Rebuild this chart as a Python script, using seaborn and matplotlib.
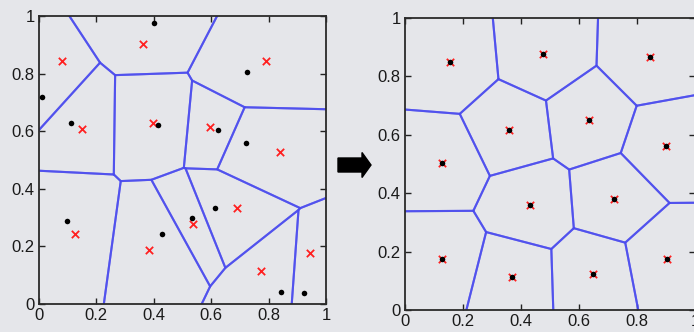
"""
Lloyd iteration: Voronoi cells before and after (two panels)
"""

import numpy as np
import pandas as pd
import matplotlib
matplotlib.use("Agg")
import matplotlib.pyplot as plt
from matplotlib.patches import FancyArrow
import seaborn as sns

# Left panel: current generators (black dots) and cell centroids (red x)
left_cen_x = [0.361, 0.079, 0.151, 0.396, 0.596, 0.791, 0.840, 0.125, 0.384, 0.535, 0.689, 0.772, 0.944]
left_cen_y = [0.904, 0.844, 0.606, 0.627, 0.615, 0.844, 0.528, 0.242, 0.187, 0.277, 0.334, 0.114, 0.176]
left_gen_x = [0.401, 0.012, 0.113, 0.413, 0.623, 0.726, 0.720, 0.096, 0.429, 0.532, 0.614, 0.842, 0.925]
left_gen_y = [0.976, 0.719, 0.627, 0.623, 0.603, 0.806, 0.560, 0.288, 0.242, 0.299, 0.332, 0.043, 0.037]

# Right panel: converged generators (they sit on their centroids)
right_gen_x = [0.154, 0.477, 0.846, 0.360, 0.633, 0.127, 0.901, 0.431, 0.719, 0.129, 0.368, 0.647, 0.904]
right_gen_y = [0.848, 0.878, 0.866, 0.617, 0.651, 0.503, 0.560, 0.358, 0.381, 0.175, 0.114, 0.123, 0.173]

ticks = [0, 0.2, 0.4, 0.6, 0.8, 1]
tick_labels = ["0", "0.2", "0.4", "0.6", "0.8", "1"]

BG = "#e5e6ea"
EDGE = "#4848ee"


def clip_halfplane(poly, m, n):
    """Keep the part of poly where (p - m) . n <= 0"""
    out = []
    k = len(poly)
    for i in range(k):
        a, b = poly[i], poly[(i + 1) % k]
        da, db = np.dot(a - m, n), np.dot(b - m, n)
        if da <= 0:
            out.append(a)
        if da * db < 0:
            t = da / (da - db)
            out.append(a + t * (b - a))
    return out


def voronoi_cells(xs, ys):
    sites = np.column_stack([xs, ys])
    big = [np.array(p, float) for p in [(-2, -2), (3, -2), (3, 3), (-2, 3)]]
    cells = []
    for i, p in enumerate(sites):
        poly = big
        for j, q in enumerate(sites):
            if i == j:
                continue
            poly = clip_halfplane(poly, (p + q) / 2, q - p)
        cells.append(np.array(poly))
    return cells


def draw_panel(ax, gx, gy, cx, cy):
    ax.set_facecolor(BG)
    # cells of the generators
    for cell in voronoi_cells(gx, gy):
        closed = np.vstack([cell, cell[:1]])
        ax.plot(closed[:, 0], closed[:, 1], color=EDGE, lw=1.5, alpha=0.75,
                solid_capstyle="round")
    cen = pd.DataFrame({"x": cx, "y": cy})
    gen = pd.DataFrame({"x": gx, "y": gy})
    sns.scatterplot(data=cen, x="x", y="y", ax=ax, marker="x", color="#ff2020",
                    s=28, linewidth=1.3, zorder=3)
    sns.scatterplot(data=gen, x="x", y="y", ax=ax, marker="o", color="black",
                    s=16, linewidth=0, zorder=4)
    ax.set_xlim(0, 1)
    ax.set_ylim(0, 1)
    ax.set_xticks(ticks)
    ax.set_yticks(ticks)
    ax.set_xticklabels(tick_labels)
    ax.set_yticklabels(tick_labels)
    ax.set_xlabel("")
    ax.set_ylabel("")
    ax.tick_params(direction="in", top=True, right=True, length=4, width=1,
                   color="#222222", labelsize=12, labelcolor="#1a1a1a", pad=3)
    for sp in ax.spines.values():
        sp.set_color("#2a2a2a")
        sp.set_linewidth(1.3)
        sp.set_visible(True)


sns.set_style("ticks")
plt.rcParams["font.family"] = ["Liberation Sans", "DejaVu Sans"]

fig = plt.figure(figsize=(6.94, 3.32), dpi=100, facecolor=BG)
ax1 = fig.add_axes([39 / 694, 28 / 332, 287 / 694, 288 / 332])
ax2 = fig.add_axes([405 / 694, 22 / 332, 290 / 694, 292 / 332])

draw_panel(ax1, left_gen_x, left_gen_y, left_cen_x, left_cen_y)
draw_panel(ax2, right_gen_x, right_gen_y, right_gen_x, right_gen_y)

# arrow between the panels
arrow = FancyArrow(338 / 694, 0.503, 24 / 694, 0, width=14 / 332,
                   head_width=25 / 332, head_length=9 / 694,
                   length_includes_head=False, color="black",
                   transform=fig.transFigure)
fig.patches.append(arrow)

fig.savefig("out.png", dpi=100, facecolor=BG)
